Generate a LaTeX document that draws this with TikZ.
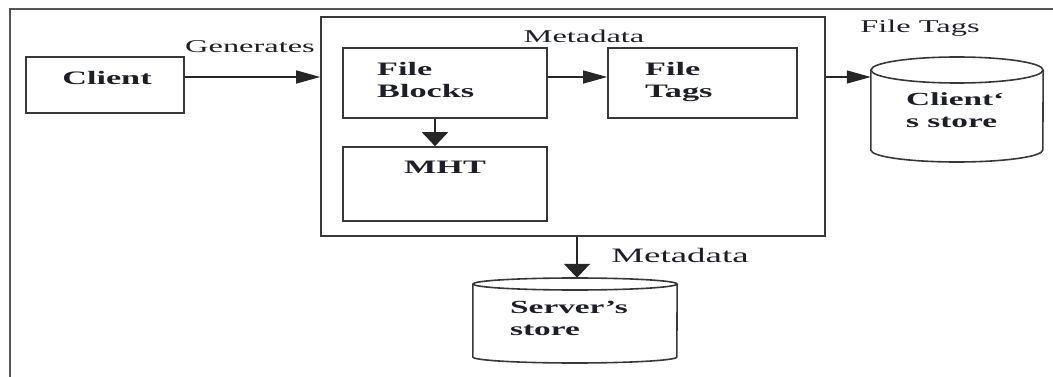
\documentclass[tikz,border=0pt]{standalone}
\usepackage{fontspec}
\setmainfont[FakeStretch=1.8]{Liberation Serif}
\usetikzlibrary{arrows.meta}
\definecolor{boxc}{HTML}{383838}
\definecolor{framec}{HTML}{555555}
\definecolor{txtc}{HTML}{1E1E28}
\begin{document}
\begin{tikzpicture}[x=1pt,y=-1pt,
  box/.style={draw=boxc, line width=1.6pt, inner sep=0pt},
  frameline/.style={draw=framec, line width=2.4pt},
  harr/.style={draw=black!85, line width=1.2pt, -{Triangle[length=24pt,width=13pt]}},
  varr/.style={draw=black!85, line width=2pt, -{Triangle[length=14pt,width=26pt]}},
  boxtxt/.style={font=\fontsize{19}{22}\selectfont\bfseries, text=txtc, inner sep=0pt},
  lbl/.style={font=\fontsize{18}{21}\selectfont, text=txtc, inner sep=0pt},
  storetxt/.style={font=\fontsize{18.5}{22}\selectfont\bfseries, text=txtc, inner sep=0pt},
  cylside/.style={draw=boxc, line width=1.6pt}
]
\useasboundingbox (0,0) rectangle (1053,377);
% outer frame
\draw[frameline] (10,377) -- (10,9) -- (1053,9);

% boxes
\node[box, minimum width=158pt, minimum height=56pt] (client) at (105,85) {};
\node[box, minimum width=504pt, minimum height=219pt] (meta) at (573,126.5) {};
\node[box, minimum width=204pt, minimum height=70pt] (fb) at (445,83) {};
\node[box, minimum width=189pt, minimum height=70pt] (ft) at (702.5,83) {};
\node[box, minimum width=204pt, minimum height=74pt] (mht) at (445,184) {};

% cylinders (invisible anchor nodes)
\node[inner sep=0pt, minimum width=172pt, minimum height=105pt] (cs) at (957,109.5) {};
\node[inner sep=0pt, minimum width=204pt, minimum height=85pt] (ss) at (575,320.5) {};
% client's store
\draw[cylside] (cs.west |- 0,70) -- (cs.west |- 0,150)
  arc[start angle=180, end angle=0, x radius=86, y radius=12] -- (cs.east |- 0,70);
\draw[cylside] (957,70) ellipse [x radius=86, y radius=13];
% server's store
\draw[cylside] (ss.west |- 0,284) -- (ss.west |- 0,357)
  arc[start angle=180, end angle=0, x radius=102, y radius=6] -- (ss.east |- 0,284);
\draw[cylside] (575,284) ellipse [x radius=102, y radius=6];

% texts
\node[boxtxt, anchor=base] (tclient) at (107,85) {Client};
\node[boxtxt, anchor=base west] (tfb) at (377,76) {\begin{tabular}[t]{@{}l@{}}File\\Blocks\end{tabular}};
\node[boxtxt, anchor=base west] (tft) at (645,76) {\begin{tabular}[t]{@{}l@{}}File\\Tags\end{tabular}};
\node[boxtxt, anchor=base] (tmht) at (445,174) {MHT};
\node[storetxt, anchor=base west] (tcs) at (906,106) {\begin{tabular}[t]{@{}l@{}}Client\symbol{"60}\\s store\end{tabular}};
\node[storetxt, anchor=base west] (tss) at (510,313) {\begin{tabular}[t]{@{}l@{}}Server's\\store\end{tabular}};

\node[lbl, anchor=base] (lgen) at (250,53) {Generates};
\node[lbl, anchor=base] (lmeta) at (584,43) {Metadata};
\node[lbl, anchor=base] (lft) at (920,33) {File Tags};
\node[font=\fontsize{20.5}{24}\selectfont, text=txtc, inner sep=0pt, anchor=base] (lmeta2) at (680,262) {Metadata};

% connectors
\coordinate (ay) at (0,77);
\draw[harr] (client.east |- ay) -- (meta.west |- ay);
\draw[harr] (fb.east |- ay) -- (ft.west |- ay);
\draw[harr] (meta.east |- ay) -- (cs.west |- ay);
\coordinate (ax) at (435,0);
\draw[varr] (fb.south -| ax) -- (mht.north -| ax);
\coordinate (bx) at (577,0);
\draw[varr] (meta.south -| bx) -- (ss.north -| bx);
\end{tikzpicture}
\end{document}
